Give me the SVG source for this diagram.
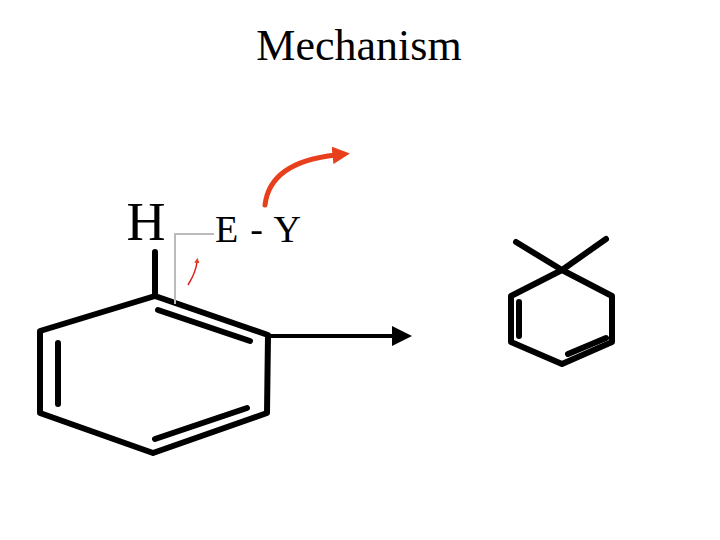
<svg xmlns="http://www.w3.org/2000/svg" width="720" height="540" viewBox="0 0 720 540">
<style>.b{stroke:#000;stroke-width:6;fill:none;stroke-linejoin:round;stroke-linecap:round}.t{font-family:"Liberation Serif",serif;fill:#000}</style>
<defs><marker id="ah" viewBox="0 0 10 10" refX="2" refY="5" markerWidth="5" markerHeight="5" orient="auto" markerUnits="strokeWidth"><path d="M0,0L10,5L0,10z" fill="#000"/></marker>
<marker id="rh" viewBox="0 0 10 10" refX="2" refY="5" markerWidth="3.5" markerHeight="3.5" orient="auto" markerUnits="strokeWidth"><path d="M0,0L10,5L0,10z" fill="#e8401c"/></marker></defs>
<rect width="720" height="540" fill="#fff"/>
<text class="t" x="359" y="60" font-size="44" text-anchor="middle">Mechanism</text>
<g id="benzene">
<path class="b" d="M155,296L268,335L267,413L153,453L40,413L40,331Z"/>
<path class="b" d="M155,252V296M158,310L250,341M58,343V404M155,439L247,408"/>
<text class="t" x="146" y="240" font-size="54" text-anchor="middle">H</text>
</g>
<g id="ey"><text class="t" x="215" y="242" font-size="38" textLength="86">E - Y</text></g>
<g id="product">
<path class="b" stroke-width="4" d="M562,270L612,296L612,342L562,364L511,342L511,296Z"/>
<path class="b" stroke-width="4" d="M562,270L516,242M562,270L606,239M519,302V336M568,354L606,338"/>
</g>
<g id="connectors">
<path d="M175,304V234H214" stroke="#bbb" stroke-width="2" fill="none"/>
<path d="M188,285Q196,272 197,262" stroke="#e02020" stroke-width="1.5" fill="none" marker-end="url(#rh)"/>
<path d="M265,205Q270,162 336,155" stroke="#e8401c" stroke-width="5" fill="none" stroke-linecap="round" marker-end="url(#rh)"/>
<path d="M270,336H396" stroke="#000" stroke-width="4" fill="none" marker-end="url(#ah)"/>
</g>
</svg>
